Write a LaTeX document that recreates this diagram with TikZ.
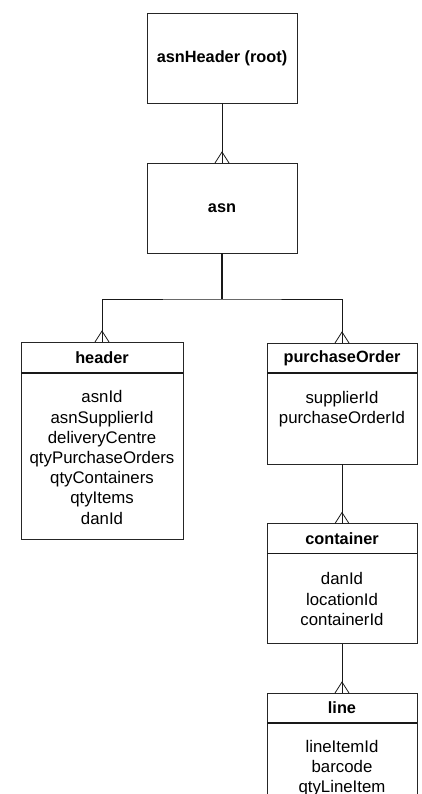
\documentclass[tikz,border=0pt]{standalone}
\usepackage{fontspec}
\setmainfont{Liberation Sans}
\usetikzlibrary{calc}
\tikzset{
  box/.style={draw=black!85, line width=0.8pt, rectangle, inner sep=0pt, outer sep=0pt},
  ttl/.style={box, font=\fontsize{16.3}{19}\selectfont\bfseries},
  attrs/.style={align=center, inner sep=0pt, font=\fontsize{16.8}{20.2}\selectfont},
  conn/.style={draw=black!90, line width=0.8pt},
  sepline/.style={draw=black!90, line width=1.4pt}
}
\newcommand\crowfoot[1]{\draw[conn] ($(#1)+(-7,0)$) -- ($(#1)+(0,-11)$) -- ($(#1)+(7,0)$);}
\begin{document}
\begin{tikzpicture}[x=1pt, y=-1pt]
\useasboundingbox (0,0) rectangle (422,794);
\clip (0,0) rectangle (422,794);
% top boxes
\node[ttl, minimum width=150pt, minimum height=90pt] (root) at (222,58.5) {asnHeader (root)};
\node[ttl, minimum width=150pt, minimum height=90pt] (asn) at (222,208) {asn};
% header entity
\node[ttl, minimum width=162pt, minimum height=31pt] (headerT) at (102,357.5) {header};
\node[box, minimum width=162pt, minimum height=166pt] (headerB) at (102,456) {};
\node[attrs] (headerA) at (102,457.5) {asnId\\asnSupplierId\\deliveryCentre\\qtyPurchaseOrders\\qtyContainers\\qtyItems\\danId};
% purchaseOrder entity
\node[ttl, minimum width=150pt, minimum height=30pt] (poT) at (342,358) {purchaseOrder};
\node[box, minimum width=150pt, minimum height=91pt] (poB) at (342,418.5) {};
\node[attrs] (poA) at (342,409) {supplierId\\purchaseOrderId};
% container entity
\node[ttl, minimum width=150pt, minimum height=30pt] (conT) at (342,538.5) {container};
\node[box, minimum width=150pt, minimum height=90pt] (conB) at (342,598.5) {};
\node[attrs] (conA) at (342,599) {danId\\locationId\\containerId};
% line entity
\node[ttl, minimum width=150pt, minimum height=30pt] (lineT) at (342,708) {line};
\node[box, minimum width=150pt, minimum height=120pt] (lineB) at (342,783) {};
\node[attrs] (lineA) at (342,768) {lineItemId\\barcode\\qtyLineItem};
% separators (thicker)
\draw[sepline] (headerT.south west) -- (headerT.south east);
\draw[sepline] (poT.south west) -- (poT.south east);
\draw[sepline] (conT.south west) -- (conT.south east);
\draw[sepline] (lineT.south west) -- (lineT.south east);
% connectors
\draw[conn] (root.south) -- (asn.north);
\crowfoot{asn.north}
\coordinate (j) at (222,299);
\draw[conn, line width=1.3pt] (asn.south) -- (j);
\draw[conn] (headerT.north) |- (j) -| (poT.north);
\crowfoot{headerT.north}
\crowfoot{poT.north}
\draw[conn] (poB.south) -- (conT.north);
\crowfoot{conT.north}
\draw[conn] (conB.south) -- (lineT.north);
\crowfoot{lineT.north}
\end{tikzpicture}
\end{document}
